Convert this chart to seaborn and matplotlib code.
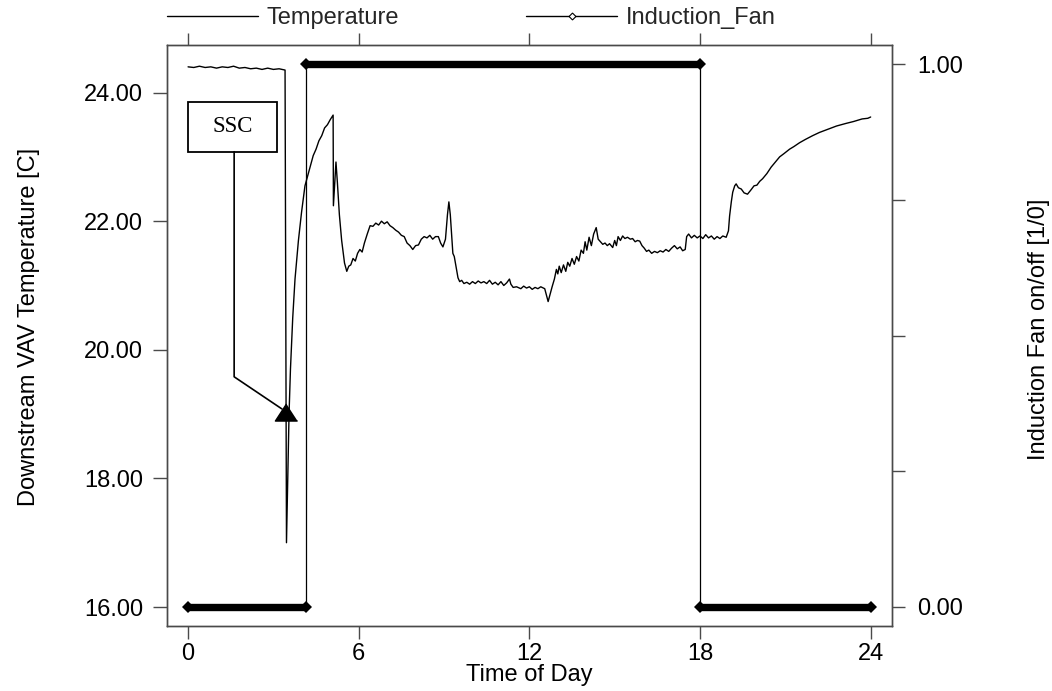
import numpy as np
import pandas as pd
import matplotlib
matplotlib.use("Agg")
import matplotlib.pyplot as plt
import seaborn as sns
from matplotlib.lines import Line2D
from matplotlib.patches import Rectangle

# ---------------- data ----------------
time_temp = [0.0, 0.2, 0.4, 0.6, 0.8, 1.0, 1.2, 1.4, 1.6, 1.8, 2.0, 2.2, 2.4, 2.6, 2.8, 3.0, 3.2, 3.41,
             3.46, 3.50, 3.55, 3.60, 3.68, 3.76, 3.88, 3.99, 4.11, 4.25, 4.4, 4.5, 4.6, 4.7, 4.8, 4.9, 5.0, 5.1,
             5.11, 5.2, 5.25, 5.32, 5.4, 5.5, 5.58, 5.65, 5.72, 5.8, 5.88, 5.96, 6.04, 6.12, 6.2, 6.3, 6.4,
             6.5, 6.6, 6.7, 6.8, 6.9, 7.0, 7.1, 7.2, 7.3, 7.4, 7.5, 7.6, 7.7, 7.8, 7.9, 8.0, 8.1, 8.2, 8.3,
             8.4, 8.5, 8.6, 8.7, 8.8, 8.88, 8.96, 9.05, 9.12, 9.17, 9.22, 9.28, 9.31, 9.36, 9.42, 9.49, 9.55,
             9.62, 9.7, 9.8, 9.9, 10.0, 10.1, 10.2, 10.3, 10.4, 10.5, 10.6, 10.7, 10.8, 10.9, 11.0, 11.1, 11.2,
             11.3, 11.35, 11.43, 11.55, 11.7, 11.8, 11.9, 12.0, 12.1, 12.2, 12.3, 12.4, 12.54, 12.6, 12.66,
             12.72, 12.8, 12.88, 12.95, 13.0, 13.05, 13.12, 13.2, 13.28, 13.35, 13.42, 13.5, 13.58, 13.66,
             13.74, 13.82, 13.9, 13.96, 14.02, 14.1, 14.18, 14.26, 14.35, 14.42, 14.5, 14.58, 14.66, 14.74,
             14.82, 14.93, 15.0, 15.06, 15.12, 15.2, 15.28, 15.36, 15.45, 15.55, 15.63, 15.72, 15.8, 15.88,
             15.96, 16.04, 16.12, 16.2, 16.3, 16.4, 16.5, 16.6, 16.7, 16.8, 16.9, 17.0, 17.1, 17.2, 17.3,
             17.39, 17.48, 17.53, 17.6, 17.7, 17.8, 17.9, 18.0, 18.1, 18.2, 18.3, 18.4, 18.5, 18.6, 18.7,
             18.8, 18.92, 19.0, 19.04, 19.1, 19.15, 19.22, 19.27, 19.35, 19.45, 19.55, 19.67, 19.78, 19.9,
             20.0, 20.1, 20.2, 20.35, 20.5, 20.65, 20.8, 20.95, 21.15, 21.3, 21.5, 21.7, 21.96, 22.2, 22.5,
             22.8, 23.13, 23.4, 23.7, 23.9, 24.0]
temperature = [24.40, 24.39, 24.41, 24.39, 24.40, 24.38, 24.40, 24.39, 24.41, 24.38, 24.39, 24.37, 24.38,
               24.36, 24.38, 24.36, 24.37, 24.35,
               17.0, 17.9, 19.0, 19.7, 20.5, 21.1, 21.7, 22.14, 22.55, 22.78, 23.02, 23.12, 23.25, 23.33,
               23.45, 23.5, 23.58, 23.65,
               22.24, 22.92, 22.6, 22.1, 21.7, 21.35, 21.22, 21.3, 21.32, 21.42, 21.38, 21.5, 21.56, 21.52,
               21.66, 21.8, 21.93, 21.92, 21.97, 21.94, 22.0, 21.96, 21.99, 21.93, 21.9, 21.86, 21.83, 21.78,
               21.76, 21.66, 21.62, 21.56, 21.62, 21.63, 21.72, 21.76, 21.74, 21.78, 21.72, 21.76, 21.76,
               21.66, 21.6, 21.72, 22.1, 22.3, 22.1, 21.7, 21.5, 21.45, 21.3, 21.12, 21.06, 21.08, 21.03,
               21.05, 21.02, 21.06, 21.03, 21.07, 21.04, 21.06, 21.03, 21.08, 21.02, 21.05, 21.01, 21.06,
               21.0, 21.04, 21.1, 21.02, 20.97, 20.98, 20.95, 20.99, 20.96, 20.98, 20.94, 20.97, 20.95,
               20.98, 20.95, 20.85, 20.75, 20.85, 20.98, 21.1, 21.25, 21.18, 21.3, 21.2, 21.32, 21.22,
               21.36, 21.3, 21.42, 21.33, 21.45, 21.38, 21.55, 21.5, 21.68, 21.55, 21.75, 21.62, 21.8,
               21.9, 21.72, 21.68, 21.64, 21.66, 21.62, 21.65, 21.59, 21.7, 21.62, 21.76, 21.7, 21.77,
               21.73, 21.75, 21.72, 21.73, 21.68, 21.7, 21.69, 21.62, 21.58, 21.53, 21.55, 21.5, 21.53,
               21.51, 21.54, 21.52, 21.56, 21.53, 21.58, 21.62, 21.57, 21.6, 21.54, 21.56, 21.76, 21.8,
               21.74, 21.78, 21.74, 21.77, 21.73, 21.79, 21.74, 21.77, 21.72, 21.76, 21.73, 21.77, 21.75,
               21.85, 22.08, 22.3, 22.45, 22.55, 22.58, 22.52, 22.5, 22.44, 22.42, 22.48, 22.55, 22.56,
               22.62, 22.66, 22.74, 22.84, 22.92, 23.0, 23.05, 23.12, 23.16, 23.22, 23.27, 23.33, 23.38,
               23.43, 23.48, 23.52, 23.55, 23.59, 23.6, 23.62]

fan_time = [0.0, 4.15, 4.15, 18.0, 18.0, 24.0]
fan_state = [0, 0, 1, 1, 0, 0]
fan_segment = [0, 0, 1, 1, 2, 2]

x_ticks = [0, 6, 12, 18, 24]
temp_ticks = [16, 18, 20, 22, 24]
fan_ticks = [0.0, 0.25, 0.5, 0.75, 1.0]
fan_tick_labels = ["0.00", "", "", "", "1.00"]

legend_labels = ["Temperature", "Induction_Fan"]
annotation_text = "SSC"

# ---------------- styling ----------------
sns.set_theme(style="ticks")
plt.rcParams["font.family"] = ["Liberation Sans", "DejaVu Sans"]
FS = 17
GREY = "#4a4a4a"

fig = plt.figure(figsize=(10.52, 6.91), dpi=100)
ax = fig.add_axes([0.1585, 0.0941, 0.6894, 0.8408])
ax2 = ax.twinx()

temp_df = pd.DataFrame({"time": time_temp, "temp": temperature})
fan_df = pd.DataFrame({"time": fan_time, "state": fan_state, "seg": fan_segment})

sns.lineplot(data=temp_df, x="time", y="temp", ax=ax, color="black", lw=1.0,
             estimator=None, sort=False, legend=False)

# thin step outline of the fan state
sns.lineplot(data=fan_df, x="time", y="state", ax=ax2, color="black", lw=0.9,
             estimator=None, sort=False, legend=False)
# thick horizontal runs (dense diamond markers in the original)
sns.lineplot(data=fan_df, x="time", y="state", units="seg", ax=ax2, color="black", lw=5.3,
             estimator=None, sort=False, legend=False, marker="D", markersize=5.8,
             markeredgewidth=0, solid_capstyle="butt")

ax.set_xlim(-0.75, 24.75)
ax.set_ylim(15.705, 24.74)
ax2.set_ylim(-0.035, 1.0356)

ax.set_xticks(x_ticks)
ax.set_xticklabels([str(v) for v in x_ticks])
ax.set_yticks(temp_ticks)
ax.set_yticklabels([f"{v:.2f}" for v in temp_ticks])
ax2.set_yticks(fan_ticks)
ax2.set_yticklabels(fan_tick_labels)

for a in (ax, ax2):
    for s in a.spines.values():
        s.set_visible(True)
        s.set_color(GREY)
        s.set_linewidth(1.0)

ax.tick_params(axis="x", which="both", direction="out", length=9, width=1, color=GREY,
               labelsize=FS, pad=3, top=True, labeltop=False, labelcolor="black")
ax.tick_params(axis="y", direction="out", length=10, width=1, color=GREY,
               labelsize=FS, pad=7, labelcolor="black")
ax2.tick_params(axis="y", direction="out", length=9, width=1, color=GREY,
                labelsize=FS, pad=9, labelcolor="black")

ax.set_xlabel("Time of Day", fontsize=FS, color="black")
ax.xaxis.set_label_coords(0.5, -0.066)
ax.set_ylabel("Downstream VAV Temperature [C]", fontsize=FS, color="black")
ax.yaxis.set_label_coords(-0.175, 0.514)
ax2.set_ylabel("Induction Fan on/off [1/0]", fontsize=FS, color="black")
ax2.yaxis.set_label_coords(1.188, 0.51)

# ---------------- SSC callout ----------------
ax.add_patch(Rectangle((0.0, 23.08), 3.13, 0.77, facecolor="white", edgecolor="black",
                       lw=1.3, zorder=5))
ax.text(1.565, 23.465, annotation_text, ha="center", va="center", fontsize=16.5,
        family=["Liberation Serif", "DejaVu Serif"], color="black", zorder=6)
ax.plot([1.62, 1.62, 3.3], [23.08, 19.58, 19.08], color="black", lw=1.2, zorder=5)
tri = [(0, 0.77), (-1, -0.77), (1, -0.77)]
ax.plot([3.446], [19.04], marker=tri, markersize=16, color="black", lw=0, zorder=6)

# ---------------- legend ----------------
handles = [
    Line2D([], [], color="black", lw=1.0),
    Line2D([], [], color="black", lw=1.0, marker="D", markersize=3.5,
           markerfacecolor="white", markeredgecolor="black", markeredgewidth=0.8),
]
fig.legend(handles, legend_labels, loc="center left", bbox_to_anchor=(0.1585, 0.974),
           ncol=2, frameon=False, fontsize=FS, handlelength=3.85, handletextpad=0.36,
           columnspacing=5.4, borderpad=0, borderaxespad=0, numpoints=1)

fig.savefig("out.png", dpi=100)
